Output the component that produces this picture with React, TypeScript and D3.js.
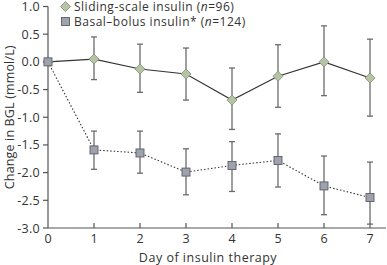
import React from "react";
import * as d3 from "d3";

const days = [0, 1, 2, 3, 4, 5, 6, 7];
const slidingMean = [0.0, 0.05, -0.13, -0.22, -0.69, -0.26, 0.0, -0.29];
const slidingUpper = [0.0, 0.45, 0.32, 0.25, -0.11, 0.31, 0.65, 0.41];
const slidingLower = [0.0, -0.32, -0.55, -0.69, -1.22, -0.82, -0.61, -0.98];
const basalMean = [0.0, -1.59, -1.645, -1.99, -1.87, -1.78, -2.24, -2.45];
const basalUpper = [0.0, -1.25, -1.25, -1.57, -1.44, -1.3, -1.7, -1.81];
const basalLower = [0.0, -1.94, -2.01, -2.4, -2.34, -2.26, -2.76, -2.93];
const yTicks = [1.0, 0.5, 0.0, -0.5, -1.0, -1.5, -2.0, -2.5, -3.0];
const xTicks = [0, 1, 2, 3, 4, 5, 6, 7];
const legendLabels = ["Sliding-scale insulin", "Basal\u2013bolus insulin*"];
const legendN = ["96", "124"];

const FONT = "'Open Sans', 'Noto Sans', sans-serif";

export default function App() {
  const W = 387, H = 265;
  const x = d3.scaleLinear().domain([0, 7]).range([48, 370]);
  const y = d3.scaleLinear().domain([-3, 1]).range([228, 6.5]);
  const line = d3.line<number>().x((_, i) => x(days[i])).y((v) => y(v));
  const capW = 3;
  const axisColor = "#555";
  const textColor = "#333";
  const errColor = "#6b6b6b";

  const errBars = (up: number[], lo: number[], key: string) =>
    days.map((d, i) =>
      i === 0 ? null : (
        <g key={key + i} stroke={errColor} strokeWidth={1.3}>
          <line x1={x(d)} x2={x(d)} y1={y(up[i])} y2={y(lo[i])} />
          <line x1={x(d) - capW} x2={x(d) + capW} y1={y(up[i])} y2={y(up[i])} />
          <line x1={x(d) - capW} x2={x(d) + capW} y1={y(lo[i])} y2={y(lo[i])} />
        </g>
      )
    );

  const diamond = (cx: number, cy: number, r: number, k: string) => (
    <path
      key={k}
      d={`M${cx},${cy - r}L${cx + r},${cy}L${cx},${cy + r}L${cx - r},${cy}Z`}
      fill="#b4c4a4"
      stroke="#7d8a74"
      strokeWidth={0.8}
    />
  );
  const square = (cx: number, cy: number, s: number, k: string) => (
    <rect
      key={k}
      x={cx - s / 2}
      y={cy - s / 2}
      width={s}
      height={s}
      fill="#9ea2ad"
      stroke="#5a5d66"
      strokeWidth={0.9}
    />
  );

  return (
    <svg width={W} height={H} style={{ position: "absolute", left: 0, top: 0 }} fontFamily={FONT}>
      <rect width={W} height={H} fill="#fff" />
      {/* axes */}
      <line x1={48} x2={48} y1={y(1)} y2={y(-3)} stroke={axisColor} strokeWidth={1.2} />
      <line x1={48} x2={386} y1={y(-3)} y2={y(-3)} stroke={axisColor} strokeWidth={1.2} />
      {yTicks.map((t) => (
        <g key={"yt" + t}>
          <line x1={43} x2={48} y1={y(t)} y2={y(t)} stroke={axisColor} strokeWidth={1.2} />
          <text x={40} y={y(t)} dy="0.36em" textAnchor="end" fontSize={12.5} letterSpacing={0.3} fill={textColor}>
            {t.toFixed(1)}
          </text>
        </g>
      ))}
      {xTicks.map((t) => (
        <g key={"xt" + t}>
          {t > 0 && (
            <line x1={x(t)} x2={x(t)} y1={y(-3)} y2={y(-3) - 5} stroke={axisColor} strokeWidth={1.2} />
          )}
          <text x={x(t)} y={243} textAnchor="middle" fontSize={12.5} fill={textColor}>
            {t}
          </text>
        </g>
      ))}
      <text x={208} y={262} textAnchor="middle" fontSize={12.5} letterSpacing={0.5} fill={textColor}>
        Day of insulin therapy
      </text>
      <text
        transform={`translate(14,${y(-1)}) rotate(-90)`}
        textAnchor="middle"
        fontSize={12.5}
        letterSpacing={0.15}
        fill={textColor}
      >
        Change in BGL (mmol/L)
      </text>

      {/* error bars */}
      {errBars(slidingUpper, slidingLower, "s")}
      {errBars(basalUpper, basalLower, "b")}

      {/* lines */}
      <path d={line(slidingMean) || ""} fill="none" stroke="#333" strokeWidth={1.1} />
      <path d={line(basalMean) || ""} fill="none" stroke="#333" strokeWidth={1.1} strokeDasharray="1.5,2" />

      {/* markers */}
      {days.map((d, i) => diamond(x(d), y(slidingMean[i]), 5, "sd" + i))}
      {days.map((d, i) => square(x(d), y(basalMean[i]), 8, "bs" + i))}

      {/* legend */}
      {diamond(65.5, 6.5, 5, "lg1")}
      {square(65.5, 21.5, 8, "lg2")}
      <text x={74} y={10.8} fontSize={12} letterSpacing={0.5} fill={textColor}>
        {legendLabels[0]} (<tspan fontStyle="italic">n</tspan>={legendN[0]})
      </text>
      <text x={74} y={25.8} fontSize={12} letterSpacing={0.5} fill={textColor}>
        {legendLabels[1]} (<tspan fontStyle="italic">n</tspan>={legendN[1]})
      </text>
    </svg>
  );
}
